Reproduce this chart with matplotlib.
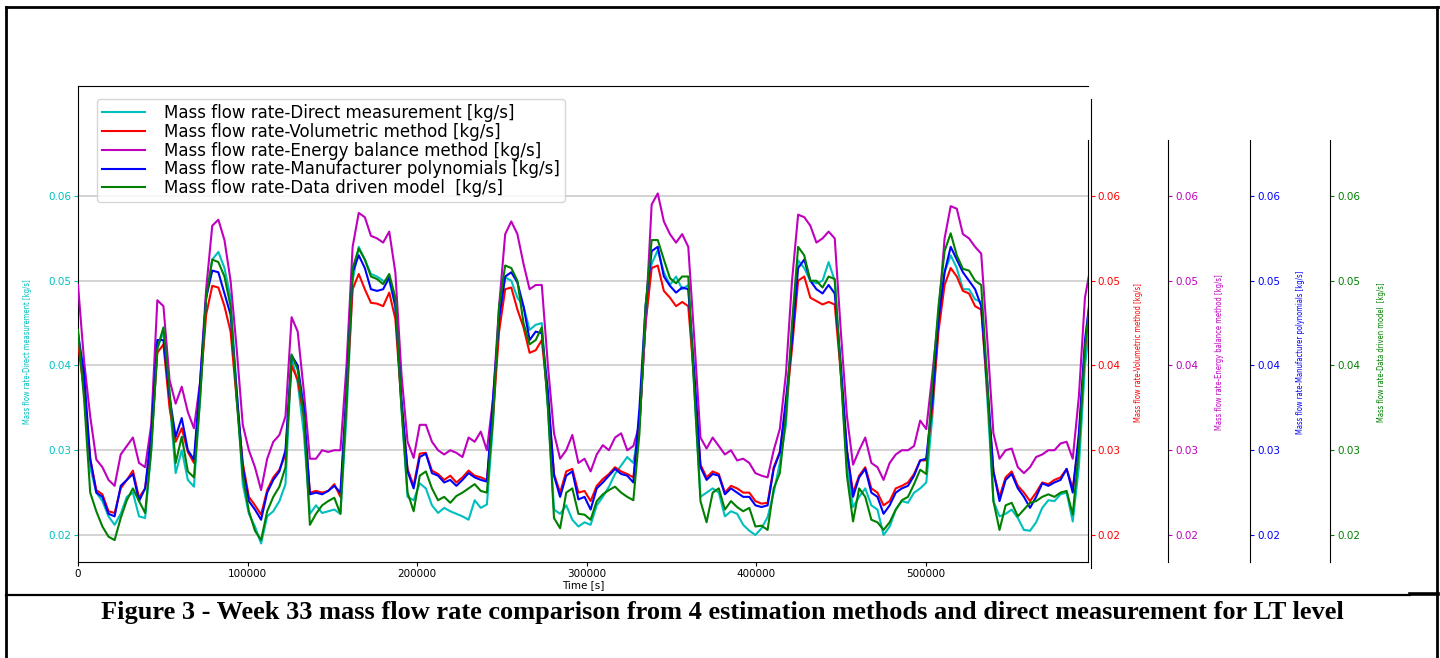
import numpy as np
import matplotlib
matplotlib.use('Agg')
import matplotlib.pyplot as plt
from matplotlib.lines import Line2D

# hourly samples over the week (seconds)
time_s = np.arange(167) * 3600

direct = [0.0435, 0.0370, 0.0280, 0.0250, 0.0240, 0.0222, 0.0212, 0.0225, 0.0245, 0.0250,
          0.0222, 0.0220, 0.0300, 0.0420, 0.0440, 0.0360, 0.0273, 0.0300, 0.0265, 0.0257,
          0.0360, 0.0480, 0.0525, 0.0534, 0.0515, 0.0480, 0.0370, 0.0260, 0.0225, 0.0210,
          0.0190, 0.0222, 0.0228, 0.0240, 0.0260, 0.0409, 0.0380, 0.0320, 0.0225, 0.0235,
          0.0226, 0.0228, 0.0230, 0.0225, 0.0340, 0.0500, 0.0540, 0.0525, 0.0508, 0.0505,
          0.0500, 0.0500, 0.0470, 0.0350, 0.0245, 0.0241, 0.0261, 0.0255, 0.0235, 0.0226,
          0.0232, 0.0228, 0.0225, 0.0222, 0.0218, 0.0241, 0.0232, 0.0236, 0.0330, 0.0460,
          0.0504, 0.0500, 0.0480, 0.0470, 0.0442, 0.0448, 0.0450, 0.0350, 0.0230, 0.0225,
          0.0235, 0.0218, 0.0210, 0.0215, 0.0212, 0.0235, 0.0245, 0.0257, 0.0272, 0.0282,
          0.0292, 0.0285, 0.0330, 0.0450, 0.0520, 0.0536, 0.0510, 0.0495, 0.0505, 0.0490,
          0.0495, 0.0370, 0.0245, 0.0250, 0.0255, 0.0250, 0.0222, 0.0228, 0.0225, 0.0212,
          0.0205, 0.0200, 0.0208, 0.0221, 0.0250, 0.0285, 0.0330, 0.0440, 0.0524, 0.0515,
          0.0500, 0.0497, 0.0500, 0.0522, 0.0500, 0.0390, 0.0280, 0.0233, 0.0245, 0.0255,
          0.0235, 0.0230, 0.0200, 0.0210, 0.0230, 0.0240, 0.0238, 0.0250, 0.0255, 0.0262,
          0.0340, 0.0450, 0.0510, 0.0530, 0.0515, 0.0490, 0.0490, 0.0478, 0.0475, 0.0360,
          0.0240, 0.0222, 0.0225, 0.0230, 0.0220, 0.0206, 0.0205, 0.0215, 0.0232, 0.0241,
          0.0240, 0.0248, 0.0250, 0.0216, 0.0280, 0.0400, 0.0460]

volumetric = [0.0427, 0.0370, 0.0290, 0.0253, 0.0248, 0.0228, 0.0226, 0.0255, 0.0265, 0.0276,
              0.0244, 0.0255, 0.0310, 0.0415, 0.0425, 0.0350, 0.0310, 0.0326, 0.0298, 0.0285,
              0.0370, 0.0460, 0.0494, 0.0492, 0.0470, 0.0440, 0.0360, 0.0285, 0.0245, 0.0235,
              0.0224, 0.0253, 0.0268, 0.0277, 0.0295, 0.0400, 0.0383, 0.0340, 0.0250, 0.0252,
              0.0250, 0.0252, 0.0260, 0.0245, 0.0360, 0.0490, 0.0508, 0.0490, 0.0474, 0.0473,
              0.0470, 0.0486, 0.0455, 0.0355, 0.0278, 0.0258, 0.0296, 0.0297, 0.0276, 0.0272,
              0.0265, 0.0270, 0.0262, 0.0268, 0.0276, 0.0270, 0.0268, 0.0265, 0.0340, 0.0440,
              0.0490, 0.0492, 0.0466, 0.0445, 0.0415, 0.0418, 0.0430, 0.0360, 0.0272, 0.0250,
              0.0275, 0.0278, 0.0250, 0.0252, 0.0240, 0.0258, 0.0266, 0.0272, 0.0280, 0.0275,
              0.0272, 0.0268, 0.0330, 0.0450, 0.0515, 0.0518, 0.0488, 0.0480, 0.0470, 0.0475,
              0.0470, 0.0380, 0.0283, 0.0268, 0.0275, 0.0272, 0.0250, 0.0258, 0.0255, 0.0250,
              0.0250, 0.0240, 0.0237, 0.0238, 0.0280, 0.0298, 0.0350, 0.0420, 0.0500, 0.0505,
              0.0480, 0.0476, 0.0472, 0.0475, 0.0472, 0.0390, 0.0300, 0.0250, 0.0270, 0.0280,
              0.0255, 0.0250, 0.0235, 0.0240, 0.0255, 0.0258, 0.0262, 0.0272, 0.0288, 0.0288,
              0.0350, 0.0440, 0.0495, 0.0515, 0.0505, 0.0488, 0.0485, 0.0470, 0.0466, 0.0370,
              0.0275, 0.0245, 0.0268, 0.0275, 0.0258, 0.0250, 0.0240, 0.0250, 0.0262, 0.0260,
              0.0265, 0.0268, 0.0278, 0.0255, 0.0310, 0.0420, 0.0480]

energy = [0.0495, 0.0405, 0.0340, 0.0289, 0.0280, 0.0265, 0.0258, 0.0295, 0.0305, 0.0315,
          0.0285, 0.0280, 0.0330, 0.0477, 0.0470, 0.0383, 0.0355, 0.0375, 0.0345, 0.0326,
          0.0380, 0.0490, 0.0565, 0.0572, 0.0548, 0.0500, 0.0420, 0.0330, 0.0300, 0.0280,
          0.0253, 0.0290, 0.0310, 0.0318, 0.0340, 0.0457, 0.0440, 0.0370, 0.0290, 0.0290,
          0.0300, 0.0298, 0.0300, 0.0300, 0.0400, 0.0540, 0.0580, 0.0575, 0.0553, 0.0550,
          0.0545, 0.0558, 0.0510, 0.0390, 0.0310, 0.0291, 0.0330, 0.0330, 0.0310, 0.0300,
          0.0295, 0.0300, 0.0297, 0.0292, 0.0315, 0.0310, 0.0322, 0.0300, 0.0360, 0.0470,
          0.0555, 0.0570, 0.0555, 0.0520, 0.0490, 0.0495, 0.0495, 0.0400, 0.0320, 0.0290,
          0.0300, 0.0318, 0.0285, 0.0290, 0.0275, 0.0295, 0.0306, 0.0300, 0.0315, 0.0320,
          0.0300, 0.0305, 0.0330, 0.0450, 0.0590, 0.0603, 0.0570, 0.0555, 0.0545, 0.0555,
          0.0540, 0.0430, 0.0315, 0.0302, 0.0315, 0.0305, 0.0295, 0.0300, 0.0288, 0.0290,
          0.0285, 0.0273, 0.0270, 0.0268, 0.0300, 0.0325, 0.0390, 0.0500, 0.0578, 0.0575,
          0.0565, 0.0545, 0.0550, 0.0558, 0.0550, 0.0440, 0.0340, 0.0283, 0.0300, 0.0315,
          0.0285, 0.0280, 0.0265, 0.0285, 0.0295, 0.0300, 0.0300, 0.0305, 0.0335, 0.0325,
          0.0390, 0.0460, 0.0550, 0.0588, 0.0585, 0.0555, 0.0550, 0.0540, 0.0532, 0.0430,
          0.0320, 0.0290, 0.0300, 0.0302, 0.0280, 0.0273, 0.0280, 0.0292, 0.0295, 0.0300,
          0.0300, 0.0308, 0.0310, 0.0290, 0.0363, 0.0480, 0.0520]

manufacturer = [0.0438, 0.0390, 0.0290, 0.0250, 0.0245, 0.0225, 0.0222, 0.0258, 0.0265, 0.0272,
                0.0240, 0.0255, 0.0320, 0.0430, 0.0430, 0.0363, 0.0316, 0.0338, 0.0300, 0.0289,
                0.0380, 0.0480, 0.0512, 0.0510, 0.0485, 0.0460, 0.0370, 0.0280, 0.0240, 0.0230,
                0.0218, 0.0250, 0.0265, 0.0275, 0.0300, 0.0412, 0.0400, 0.0350, 0.0248, 0.0250,
                0.0248, 0.0252, 0.0258, 0.0250, 0.0370, 0.0510, 0.0530, 0.0515, 0.0490, 0.0488,
                0.0490, 0.0504, 0.0470, 0.0360, 0.0275, 0.0255, 0.0292, 0.0296, 0.0273, 0.0270,
                0.0262, 0.0265, 0.0258, 0.0265, 0.0273, 0.0268, 0.0265, 0.0263, 0.0360, 0.0455,
                0.0505, 0.0510, 0.0498, 0.0470, 0.0430, 0.0440, 0.0438, 0.0370, 0.0270, 0.0245,
                0.0270, 0.0275, 0.0242, 0.0245, 0.0230, 0.0255, 0.0262, 0.0270, 0.0278, 0.0272,
                0.0270, 0.0262, 0.0350, 0.0470, 0.0535, 0.0540, 0.0505, 0.0494, 0.0486, 0.0492,
                0.0490, 0.0390, 0.0280, 0.0265, 0.0272, 0.0270, 0.0248, 0.0255, 0.0250, 0.0245,
                0.0245, 0.0235, 0.0233, 0.0235, 0.0278, 0.0297, 0.0360, 0.0430, 0.0515, 0.0525,
                0.0500, 0.0490, 0.0485, 0.0495, 0.0485, 0.0400, 0.0300, 0.0245, 0.0268, 0.0278,
                0.0250, 0.0245, 0.0225, 0.0235, 0.0250, 0.0255, 0.0258, 0.0270, 0.0288, 0.0290,
                0.0360, 0.0454, 0.0510, 0.0540, 0.0525, 0.0510, 0.0500, 0.0490, 0.0470, 0.0380,
                0.0275, 0.0240, 0.0265, 0.0272, 0.0255, 0.0245, 0.0232, 0.0245, 0.0261, 0.0258,
                0.0262, 0.0265, 0.0278, 0.0250, 0.0320, 0.0430, 0.0490]

data_driven = [0.0442, 0.0360, 0.0250, 0.0228, 0.0210, 0.0198, 0.0194, 0.0220, 0.0241, 0.0255,
               0.0240, 0.0226, 0.0300, 0.0420, 0.0445, 0.0370, 0.0285, 0.0316, 0.0275, 0.0268,
               0.0360, 0.0480, 0.0525, 0.0522, 0.0505, 0.0470, 0.0360, 0.0270, 0.0228, 0.0205,
               0.0194, 0.0228, 0.0245, 0.0257, 0.0280, 0.0413, 0.0395, 0.0340, 0.0212, 0.0225,
               0.0235, 0.0240, 0.0244, 0.0225, 0.0360, 0.0515, 0.0538, 0.0525, 0.0505, 0.0502,
               0.0496, 0.0508, 0.0480, 0.0350, 0.0250, 0.0228, 0.0270, 0.0275, 0.0255, 0.0241,
               0.0245, 0.0238, 0.0246, 0.0250, 0.0255, 0.0260, 0.0252, 0.0250, 0.0340, 0.0470,
               0.0518, 0.0515, 0.0500, 0.0450, 0.0425, 0.0430, 0.0445, 0.0350, 0.0220, 0.0208,
               0.0250, 0.0255, 0.0225, 0.0224, 0.0218, 0.0240, 0.0248, 0.0253, 0.0257, 0.0250,
               0.0245, 0.0241, 0.0320, 0.0470, 0.0548, 0.0548, 0.0525, 0.0503, 0.0497, 0.0505,
               0.0505, 0.0370, 0.0240, 0.0215, 0.0250, 0.0255, 0.0230, 0.0240, 0.0233, 0.0228,
               0.0232, 0.0210, 0.0211, 0.0206, 0.0255, 0.0273, 0.0340, 0.0450, 0.0540, 0.0530,
               0.0500, 0.0500, 0.0492, 0.0505, 0.0502, 0.0390, 0.0270, 0.0216, 0.0255, 0.0245,
               0.0218, 0.0215, 0.0206, 0.0215, 0.0230, 0.0241, 0.0245, 0.0260, 0.0277, 0.0272,
               0.0380, 0.0470, 0.0535, 0.0556, 0.0530, 0.0514, 0.0512, 0.0500, 0.0495, 0.0380,
               0.0240, 0.0206, 0.0235, 0.0238, 0.0222, 0.0230, 0.0238, 0.0240, 0.0245, 0.0248,
               0.0245, 0.0250, 0.0252, 0.0224, 0.0300, 0.0420, 0.0490]

series = [direct, volumetric, energy, manufacturer, data_driven]
legend_labels = ['Mass flow rate-Direct measurement [kg/s]',
                 'Mass flow rate-Volumetric method [kg/s]',
                 'Mass flow rate-Energy balance method [kg/s]',
                 'Mass flow rate-Manufacturer polynomials [kg/s]',
                 'Mass flow rate-Data driven model  [kg/s]']
axis_labels = ['Mass flow rate-Direct measurement [kg/s]',
               'Mass flow rate-Volumetric method [kg/s]',
               'Mass flow rate-Energy balance method [kg/s]',
               'Mass flow rate-Manufacturer polynomials [kg/s]',
               'Mass flow rate-Data driven model  [kg/s]']
colors = ['c', 'r', 'm', 'b', 'g']
y_ticks = [0.02, 0.03, 0.04, 0.05, 0.06]
x_ticks = [0, 100000, 200000, 300000, 400000, 500000]
caption = ('Figure 3 - Week 33 mass flow rate comparison from 4 estimation '
           'methods and direct measurement for LT level')

W, H = 1440, 658
fig = plt.figure(figsize=(W / 100, H / 100), dpi=100)

# page frame of the document
def hline(y, x0, x1, lw=2.0):
    fig.add_artist(Line2D([x0 / W, x1 / W], [1 - y / H, 1 - y / H], color='k', lw=lw))

def vline(x, y0, y1, lw=2.0):
    fig.add_artist(Line2D([x / W, x / W], [1 - y0 / H, 1 - y1 / H], color='k', lw=lw))

hline(7, 6, 1438)
vline(6, 7, 658)
vline(1437, 7, 658)
hline(595, 6, 1410, lw=1.6)
hline(594, 1410, 1438, lw=2.6)

ylo, yhi = 0.016814, 0.072979
xhi = 595800

ax = fig.add_axes([78 / W, 1 - 562 / H, 1010 / W, 476 / H])
axes = [ax] + [ax.twinx() for _ in range(4)]
offsets = [None, None, 1.0792, 1.1604, 1.2396]
label_x = [-0.0455, 1.0455, 1.1257, 1.2059, 1.2861]

handles = []
for i, a in enumerate(axes):
    line, = a.plot(time_s, series[i], color=colors[i], lw=1.5, label=legend_labels[i])
    handles.append(line)
    a.set_ylim(ylo, yhi)
    a.set_xlim(0, xhi)
    a.set_yticks(y_ticks)
    a.set_yticklabels(['%.2f' % v for v in y_ticks])
    a.tick_params(axis='y', colors=colors[i], labelsize=7.5, length=3, pad=2)
    a.set_ylabel(axis_labels[i], color=colors[i], fontsize=5.5, fontstretch='condensed')
    a.yaxis.set_label_coords(label_x[i], 0.441)
    if i > 0:
        for s in ['top', 'left', 'bottom']:
            a.spines[s].set_visible(False)
    if offsets[i] is not None:
        a.spines['right'].set_position(('axes', offsets[i]))
        a.spines['right'].set_bounds(ylo, 0.0666)
    elif i == 1:
        a.spines['right'].set_position(('outward', 2))
        a.spines['right'].set_bounds(ylo - 0.0007, 0.0714)

ax.spines['right'].set_bounds(ylo, 0.0666)
ax.grid(axis='y', color='#cccccc', lw=1.2)
ax.set_axisbelow(True)
ax.set_xticks(x_ticks)
ax.set_xticklabels([str(v) for v in x_ticks])
ax.tick_params(axis='x', labelsize=7.5, length=3, pad=2)
ax.set_xlabel('Time [s]', fontsize=7.5, labelpad=1)

leg = axes[-1].legend(handles, legend_labels, loc='upper left',
                      bbox_to_anchor=(19 / 1010, (562 - 99) / 476), borderaxespad=0,
                      fontsize=12, labelspacing=0.05, handlelength=2.6,
                      handletextpad=1.1, borderpad=0.3)
leg.get_frame().set_edgecolor('#cccccc')

fig.text(722 / W, 1 - 613 / H, caption, ha='center', va='center',
         family='Liberation Serif', weight='bold', fontsize=19)

fig.savefig('out.png', dpi=100)
